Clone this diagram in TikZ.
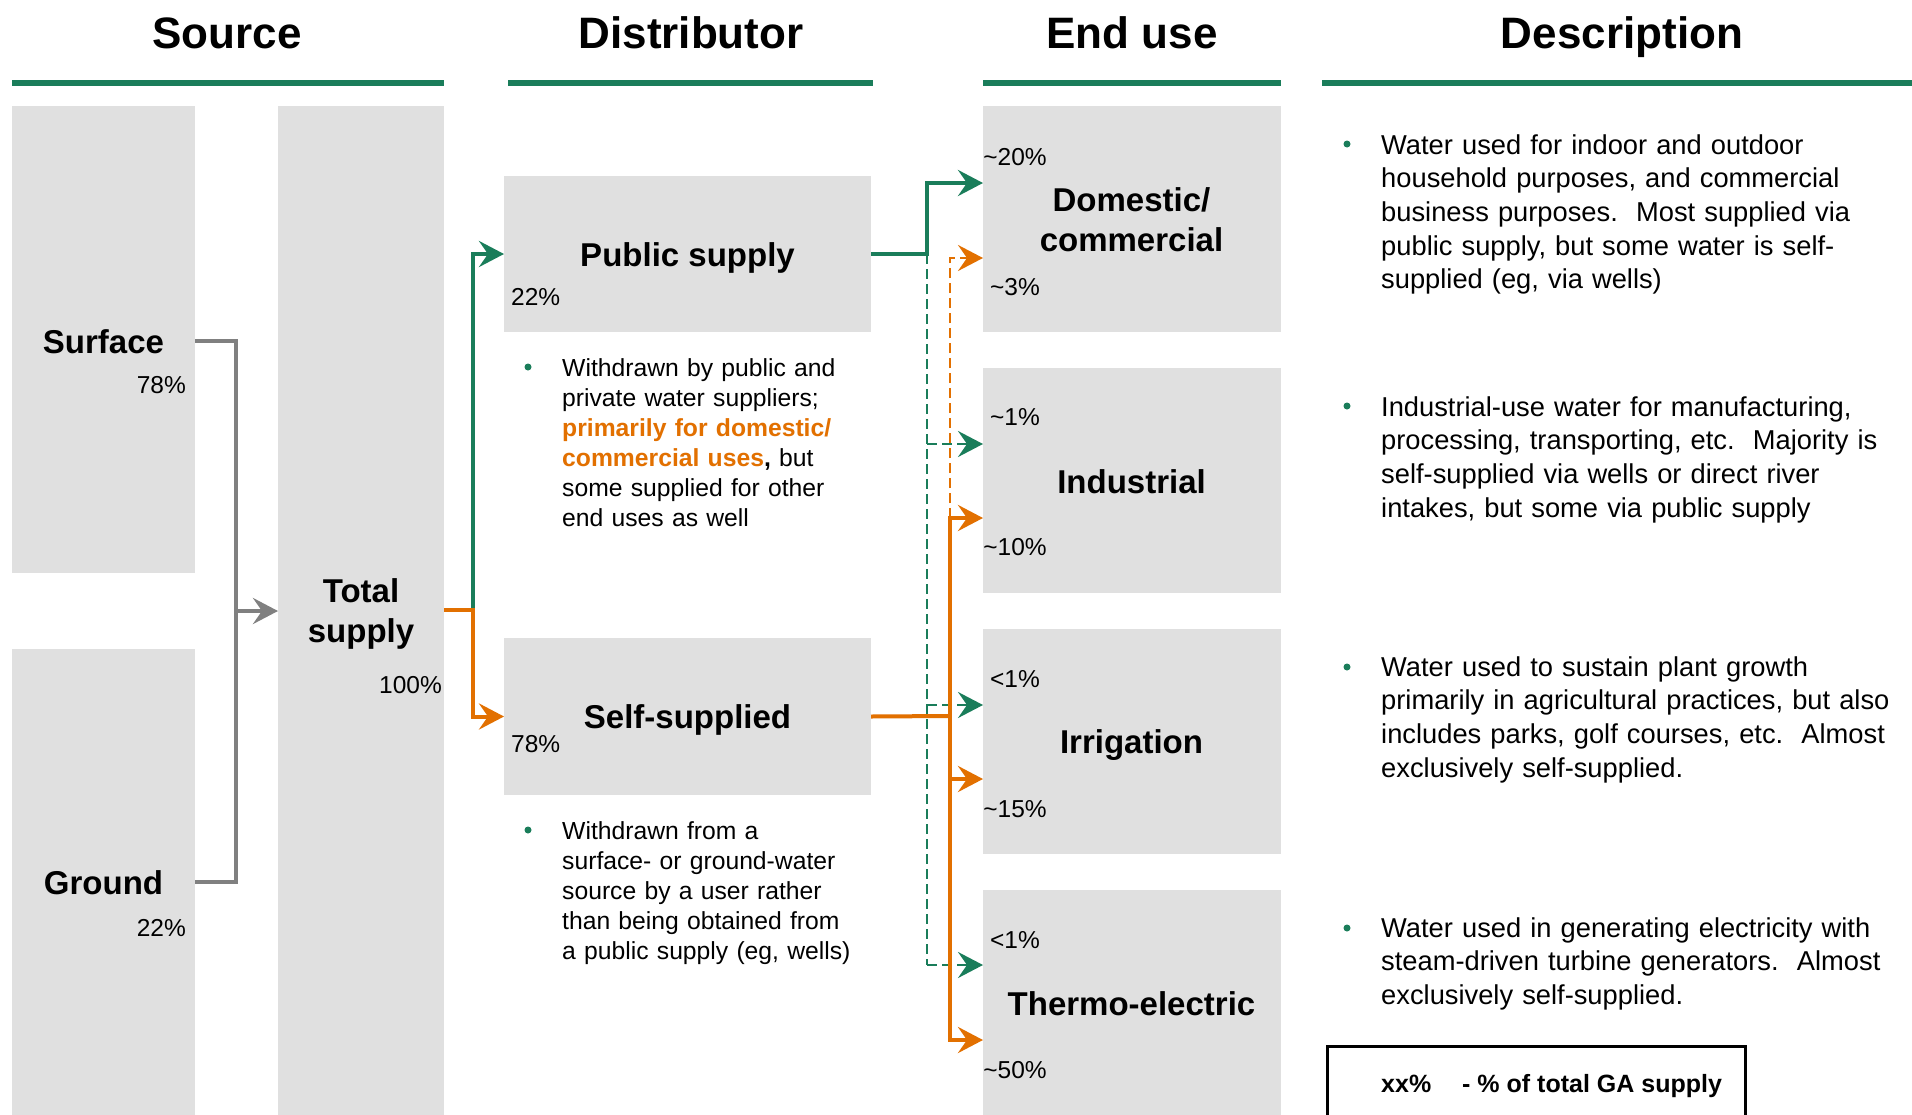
\documentclass[tikz,border=0pt]{standalone}
\usepackage{fontspec}
\setmainfont{Liberation Sans}
\usetikzlibrary{arrows.meta}
\definecolor{gr}{RGB}{26,125,90}
\definecolor{org}{RGB}{226,112,0}
\definecolor{bx}{RGB}{224,224,224}
\definecolor{gy}{RGB}{128,128,128}
\begin{document}
\begin{tikzpicture}[x=1pt,y=-1pt,
  box/.style={fill=bx, draw=none, inner sep=0, outer sep=0, anchor=north west},
  hdr/.style={font=\fontsize{44}{50}\selectfont\bfseries, anchor=base, inner sep=0},
  hline/.style={draw=gr, line width=5.5pt},
  ttl/.style={font=\fontsize{33}{40}\selectfont\bfseries, anchor=base, inner sep=0},
  ttl2/.style={ttl, align=center, text width=300pt},
  pct/.style={font=\fontsize{24.5}{30}\selectfont, inner sep=0},
  dtext/.style={font=\fontsize{24.7}{30}\selectfont, anchor=base west, inner sep=0, text width=400pt, align=left},
  desc/.style={font=\fontsize{27.3}{33.7}\selectfont, anchor=base west, inner sep=0, text width=540pt, align=left},
  dot/.style={circle, fill=gr, inner sep=0, minimum size=7pt},
  tip/.style={-{Stealth[length=25pt,width=26pt,inset=9pt]}},
  gyline/.style={draw=gy, line width=4pt},
  gline/.style={draw=gr, line width=4pt},
  oline/.style={draw=org, line width=4pt},
  gdash/.style={draw=gr, line width=2.5pt, dash pattern=on 10pt off 5pt},
  odash/.style={draw=org, line width=2.5pt, dash pattern=on 10pt off 5pt},
  legt/.style={font=\fontsize{25}{30}\selectfont\bfseries, anchor=base west, inner sep=0}
]
\useasboundingbox (0,0) rectangle (1912,1114);
\fill[white] (0,0) rectangle (1912,1114);

% headers
\node[hdr] (hsrc) at (227,48) {Source};
\node[hdr] (hdis) at (691,48) {Distributor};
\node[hdr] (hend) at (1132,48) {End use};
\node[hdr] (hdes) at (1622,48) {Description};
\draw[hline] (12,83) -- (444,83);
\draw[hline] (508,83) -- (873,83);
\draw[hline] (983,83) -- (1281,83);
\draw[hline] (1322,83) -- (1912,83);

% boxes
\node[box, minimum width=183pt, minimum height=467pt] (surf) at (12,106) {};
\node[box, minimum width=183pt, minimum height=480pt] (gnd) at (12,649) {};
\node[box, minimum width=166pt, minimum height=1020pt] (tot) at (278,106) {};
\node[box, minimum width=367pt, minimum height=156pt] (pub) at (504,176) {};
\node[box, minimum width=367pt, minimum height=157pt] (self) at (504,638) {};
\node[box, minimum width=298pt, minimum height=226pt] (dom) at (983,106) {};
\node[box, minimum width=298pt, minimum height=225pt] (ind) at (983,368) {};
\node[box, minimum width=298pt, minimum height=225pt] (irr) at (983,629) {};
\node[box, minimum width=298pt, minimum height=240pt] (thm) at (983,890) {};

% titles
\node[ttl] (tsurf) at (103.5,353) {Surface};
\node[ttl] (tgnd) at (103.5,894) {Ground};
\node[ttl2, text width=160pt] (ttot) at (361,602) {Total\\supply};
\node[ttl] (tpub) at (687.5,266) {Public supply};
\node[ttl] (tself) at (687.5,728) {Self-supplied};
\node[ttl2] (tdom) at (1131.5,211) {Domestic/\\commercial};
\node[ttl] (tind) at (1131.5,493) {Industrial};
\node[ttl] (tirr) at (1131.5,753) {Irrigation};
\node[ttl] (tthm) at (1131.5,1015) {Thermo-electric};

% percentages
\node[pct, anchor=base east] (psurf) at (186,393) {78\%};
\node[pct, anchor=base east] (pgnd) at (186,936) {22\%};
\node[pct, anchor=base east] (ptot) at (442,693) {100\%};
\node[pct, anchor=base west] (ppub) at (511,305) {22\%};
\node[pct, anchor=base west] (pself) at (511,752) {78\%};
\node[pct, anchor=base] (pdoma) at (1015,165) {\textasciitilde20\%};
\node[pct, anchor=base] (pdomb) at (1015,295) {\textasciitilde3\%};
\node[pct, anchor=base] (pinda) at (1015,425) {\textasciitilde1\%};
\node[pct, anchor=base] (pindb) at (1015,555) {\textasciitilde10\%};
\node[pct, anchor=base] (pirra) at (1015,687) {<1\%};
\node[pct, anchor=base] (pirrb) at (1015,817) {\textasciitilde15\%};
\node[pct, anchor=base] (pthma) at (1015,948) {<1\%};
\node[pct, anchor=base] (pthmb) at (1015,1078) {\textasciitilde50\%};

% distributor bullets
\node[dot] (dpub) at (528,367) {};
\node[dtext] (xpub) at (562,376) {Withdrawn by public and\\private water suppliers;\\\textcolor{org}{\bfseries primarily for domestic/}\\\textcolor{org}{\bfseries commercial uses}\textbf{,} but\\some supplied for other\\end uses as well};
\node[dot] (dself) at (528,830) {};
\node[dtext] (xself) at (562,839) {Withdrawn from a\\surface- or ground-water\\source by a user rather\\than being obtained from\\a public supply (eg, wells)};

% descriptions
\node[dot] (ddom) at (1347,144) {};
\node[desc] (xdom) at (1381,154) {Water used for indoor and outdoor\\household purposes, and commercial\\business purposes.\ \ Most supplied via\\public supply, but some water is self-\\supplied (eg, via wells)};
\node[dot] (dind) at (1347,406) {};
\node[desc] (xind) at (1381,416) {Industrial-use water for manufacturing,\\processing, transporting, etc.\ \ Majority is\\self-supplied via wells or direct river\\intakes, but some via public supply};
\node[dot] (dirr) at (1347,667) {};
\node[desc] (xirr) at (1381,676) {Water used to sustain plant growth\\primarily in agricultural practices, but also\\includes parks, golf courses, etc.\ \ Almost\\exclusively self-supplied.};
\node[dot] (dthm) at (1347,928) {};
\node[desc] (xthm) at (1381,937) {Water used in generating electricity with\\steam-driven turbine generators.\ \ Almost\\exclusively self-supplied.};

% legend
\node[draw=black, line width=2.5pt, inner sep=0, anchor=north west, minimum width=418pt, minimum height=150pt] (legbox) at (1326,1045) {};
\node[legt] (leg) at (1381,1092) {xx\%\hspace{31pt}- \% of total GA supply};

% junctions
\coordinate (sj) at (236,611);
\coordinate (tj) at (473,610);
\coordinate (gj) at (927,254);
\coordinate (gb) at (927,965);
\coordinate (oj) at (950,716);
\coordinate (ot) at (950,518);

% source -> total
\draw[gyline] (surf.east |- 0,341) -- (236,341) -- (236,882) -- (gnd.east |- 0,882);
\draw[gyline, tip] (sj) -- (tot.west |- sj);

% total -> distributor
\draw[gline, tip] (tj) |- (pub.west);
\draw[oline, tip] (tot.east |- tj) -- (tj) |- (self.west);

% public supply -> end uses
\draw[gline, tip] (pub.east) -- (gj) |- (dom.west |- 0,183);
\draw[gdash] (gj) -- (gb);
\draw[gdash, tip] (927,444) -- (ind.west |- 0,444);
\draw[gdash, tip] (927,705) -- (irr.west |- 0,705);
\draw[gdash, tip] (gb) -- (thm.west |- gb);

% self-supplied -> end uses
\draw[odash, tip] (ot) -- (950,258) -- (dom.west |- 0,258);
\draw[oline] (self.east) -- (oj);
\draw[oline, tip] (oj) |- (ind.west |- ot);
\draw[oline, tip] (950,779) -- (irr.west |- 0,779);
\draw[oline, tip] (oj) |- (thm.west |- 0,1040);
\end{tikzpicture}
\end{document}
